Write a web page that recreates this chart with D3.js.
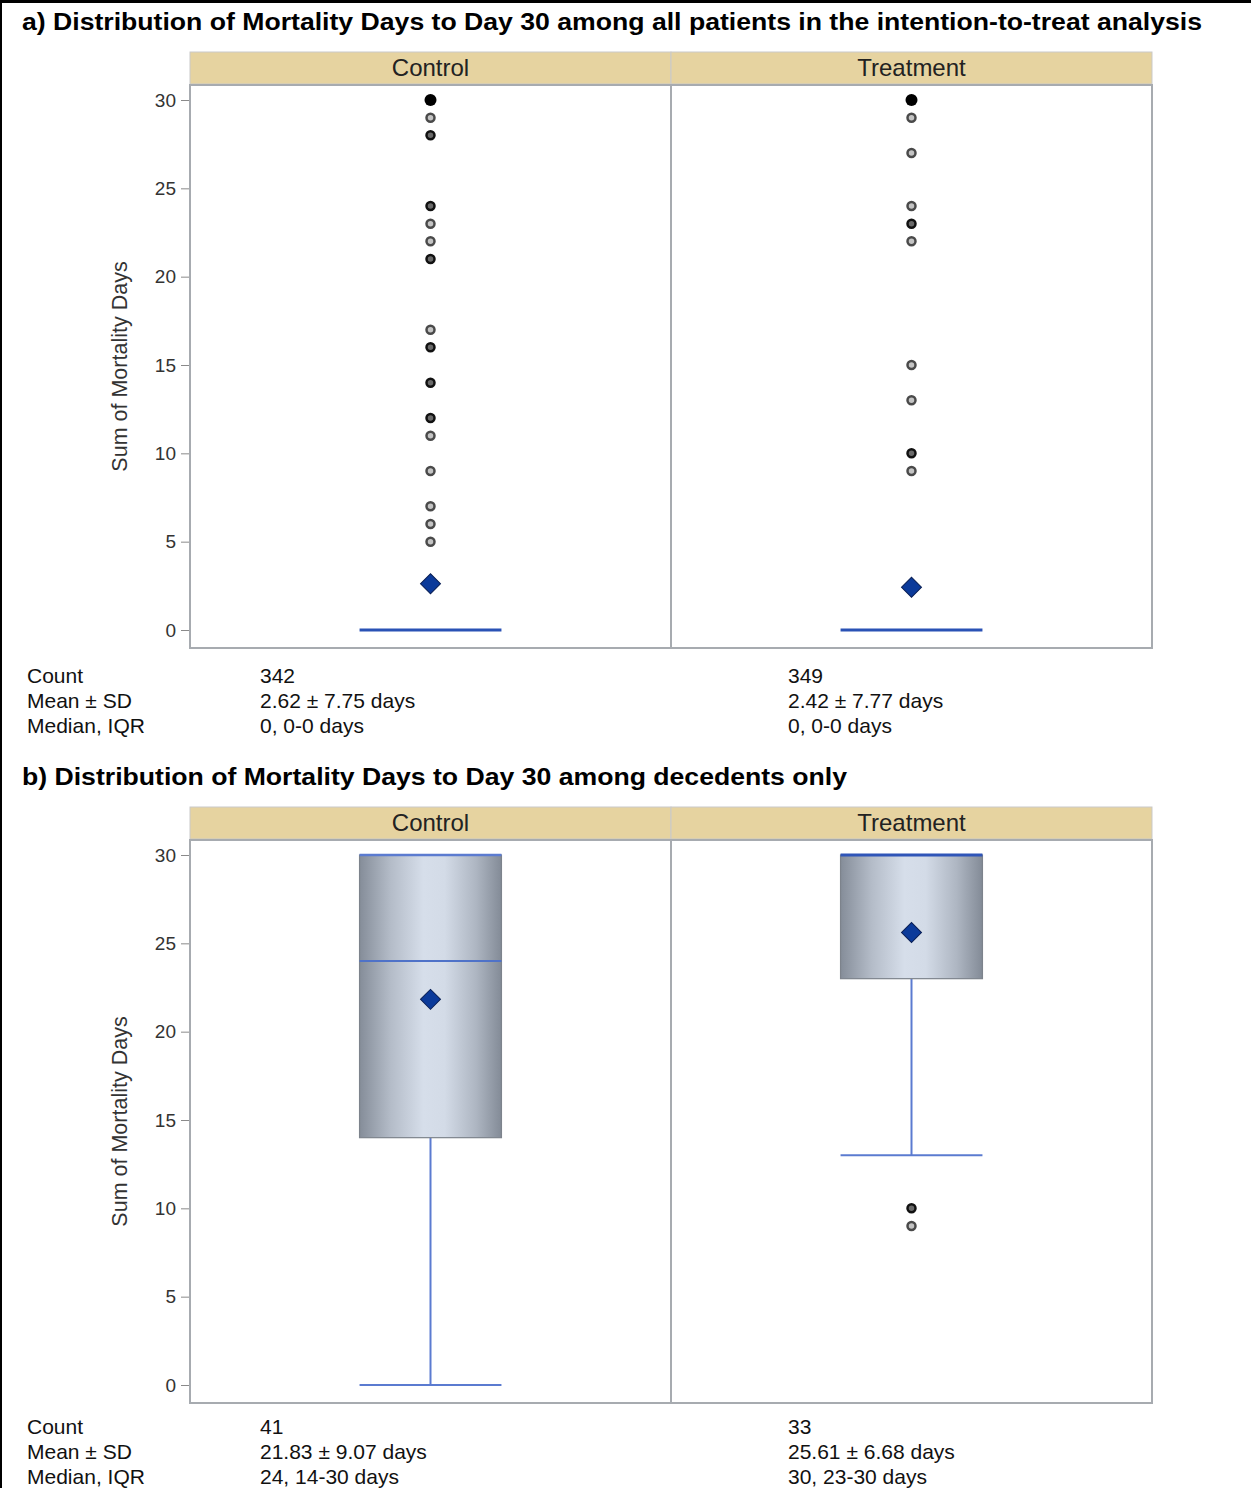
<!DOCTYPE html>
<html>
<head>
<meta charset="utf-8">
<script src="https://cdn.jsdelivr.net/npm/d3@7"></script>
<style>
  html, body { margin: 0; padding: 0; background: #fff; }
  svg { display: block; font-family: "Liberation Sans", Arial, Helvetica, sans-serif; }
</style>
</head>
<body>
<svg id="chart" width="1251" height="1488"></svg>
<script>
// ---- data ----
const groups = ["Control", "Treatment"];
const panelTitles = [
  "a) Distribution of Mortality Days to Day 30 among all patients in the intention-to-treat analysis",
  "b) Distribution of Mortality Days to Day 30 among decedents only"
];
const yTicks = [0, 5, 10, 15, 20, 25, 30];
const yLabel = "Sum of Mortality Days";

// a) all patients (ITT)
const allQ1 = [0, 0];
const allMedian = [0, 0];
const allQ3 = [0, 0];
const allWhiskerLow = [0, 0];
const allWhiskerHigh = [0, 0];
const allMean = [2.62, 2.42];
// outlier values and how many patients share each value
const allOutlierValues = [
  [30, 29, 28, 24, 23, 22, 21, 17, 16, 14, 12, 11, 9, 7, 6, 5],
  [30, 29, 27, 24, 23, 22, 15, 13, 10, 9]
];
const allOutlierCounts = [
  [17, 1, 2, 2, 1, 1, 2, 1, 2, 2, 2, 1, 1, 1, 1, 1],
  [22, 1, 1, 1, 2, 1, 1, 1, 2, 1]
];

// b) decedents only
const decQ1 = [14, 23];
const decMedian = [24, 30];
const decQ3 = [30, 30];
const decWhiskerLow = [0, 13];
const decWhiskerHigh = [30, 30];
const decMean = [21.83, 25.61];
const decOutlierValues = [[], [10, 9]];
const decOutlierCounts = [[], [2, 1]];

// summary rows under each panel
const statLabels = ["Count", "Mean \u00b1 SD", "Median, IQR"];
const allStats = [
  ["342", "2.62 \u00b1 7.75 days", "0, 0-0 days"],
  ["349", "2.42 \u00b1 7.77 days", "0, 0-0 days"]
];
const decStats = [
  ["41", "21.83 \u00b1 9.07 days", "24, 14-30 days"],
  ["33", "25.61 \u00b1 6.68 days", "30, 23-30 days"]
];

// ---- drawing ----
const svg = d3.select("#chart");
const FONT = "'Liberation Sans', Arial, Helvetica, sans-serif";

// page frame (top and left rules)
svg.append("rect").attr("x", 0).attr("y", 0).attr("width", 1251).attr("height", 3).attr("fill", "#000");
svg.append("rect").attr("x", 0).attr("y", 0).attr("width", 2).attr("height", 1488).attr("fill", "#000");

// box gradient
const defs = svg.append("defs");
const grad = defs.append("linearGradient").attr("id", "boxGrad")
  .attr("x1", "0%").attr("x2", "100%").attr("y1", "0%").attr("y2", "0%");
[["0%", "#858d99"], ["22%", "#b4bcc8"], ["45%", "#d6deea"], ["60%", "#d3dbe7"], ["82%", "#aeb6c2"], ["100%", "#838b97"]]
  .forEach(([o, c]) => grad.append("stop").attr("offset", o).attr("stop-color", c));

const plotLeft = 190, plotRight = 1152;

function drawPanel(cfg) {
  const g = svg.append("g");
  const top = cfg.top; // top of header strip
  const stripH = 32;
  const frameTop = top + stripH + 1;
  const frameBottom = frameTop + 563;

  // title
  g.append("text").attr("x", 22).attr("y", top - 22)
    .attr("font-size", 23).attr("font-weight", "bold").attr("fill", "#000")
    .attr("textLength", cfg.titleWidth).attr("lengthAdjust", "spacingAndGlyphs")
    .text(cfg.title);

  const x = d3.scaleBand().domain(groups).range([plotLeft, plotRight]);
  const y = d3.scaleLinear().domain([0, 30]).range([frameBottom - 18, frameTop + 15]);
  const boxW = x.bandwidth() * 0.295;

  // header strips
  groups.forEach(gr => {
    g.append("rect").attr("x", x(gr)).attr("y", top).attr("width", x.bandwidth()).attr("height", stripH)
      .attr("fill", "#e6d3a0").attr("stroke", "#c9c9c9").attr("stroke-width", 1);
    g.append("text").attr("x", x(gr) + x.bandwidth() / 2).attr("y", top + stripH / 2 + 8)
      .attr("text-anchor", "middle").attr("font-size", 24).attr("fill", "#222").text(gr);
  });

  // plot frames
  groups.forEach(gr => {
    g.append("rect").attr("x", x(gr)).attr("y", frameTop).attr("width", x.bandwidth()).attr("height", frameBottom - frameTop)
      .attr("fill", "#fff").attr("stroke", "#a7abb0").attr("stroke-width", 2);
  });

  // y axis
  const ax = g.append("g").attr("transform", `translate(${plotLeft - 1},0)`)
    .call(d3.axisLeft(y).tickValues(yTicks).tickSize(8).tickPadding(5));
  ax.select(".domain").remove();
  ax.selectAll(".tick line").attr("stroke", "#8a8a8a");
  ax.selectAll(".tick text").attr("font-size", 19).attr("fill", "#333").attr("font-family", FONT);

  g.append("text")
    .attr("transform", `translate(127,${(frameTop + frameBottom) / 2}) rotate(-90)`)
    .attr("text-anchor", "middle").attr("font-size", 21.5).attr("fill", "#333").text(yLabel);

  groups.forEach((gr, i) => {
    const cx = x(gr) + x.bandwidth() / 2;
    const q1 = cfg.q1[i], q3 = cfg.q3[i], med = cfg.median[i];
    const wl = cfg.wLow[i], wh = cfg.wHigh[i];
    const whiskerColor = "#5b7bd0";

    // whiskers + caps
    if (wl < q1) {
      g.append("line").attr("x1", cx).attr("x2", cx).attr("y1", y(q1)).attr("y2", y(wl))
        .attr("stroke", whiskerColor).attr("stroke-width", 2);
      g.append("line").attr("x1", cx - boxW / 2).attr("x2", cx + boxW / 2).attr("y1", y(wl)).attr("y2", y(wl))
        .attr("stroke", whiskerColor).attr("stroke-width", 2);
    }
    if (wh > q3) {
      g.append("line").attr("x1", cx).attr("x2", cx).attr("y1", y(q3)).attr("y2", y(wh))
        .attr("stroke", whiskerColor).attr("stroke-width", 2);
      g.append("line").attr("x1", cx - boxW / 2).attr("x2", cx + boxW / 2).attr("y1", y(wh)).attr("y2", y(wh))
        .attr("stroke", whiskerColor).attr("stroke-width", 2);
    }

    // box
    if (q3 > q1) {
      g.append("rect").attr("x", cx - boxW / 2).attr("y", y(q3)).attr("width", boxW).attr("height", y(q1) - y(q3))
        .attr("fill", "url(#boxGrad)").attr("stroke", "#7d838c").attr("stroke-width", 1.2);
      // upper edge drawn as whisker colour when it coincides with the whisker end
      if (wh === q3 && med !== q3) {
        g.append("line").attr("x1", cx - boxW / 2).attr("x2", cx + boxW / 2).attr("y1", y(q3)).attr("y2", y(q3))
          .attr("stroke", whiskerColor).attr("stroke-width", 2.5);
      }
    }

    // median
    g.append("line").attr("x1", cx - boxW / 2).attr("x2", cx + boxW / 2).attr("y1", y(med)).attr("y2", y(med))
      .attr("stroke", q3 > q1 ? (med === q3 ? "#2f55b8" : "#4f72c8") : "#2a52b5")
      .attr("stroke-width", q3 > q1 ? (med === q3 ? 3 : 2.2) : 3);

    // outliers
    cfg.outVals[i].forEach((v, k) => {
      const n = cfg.outCounts[i][k];
      if (n >= 10) {
        g.append("circle").attr("cx", cx).attr("cy", y(v)).attr("r", 6).attr("fill", "#000");
      } else {
        g.append("circle").attr("cx", cx).attr("cy", y(v)).attr("r", 4)
          .attr("fill", n > 1 ? "#6a6a6a" : "#c4c4c4")
          .attr("stroke", n > 1 ? "#111" : "#4a4a4a").attr("stroke-width", 2.5);
      }
    });

    // mean marker
    const ym = y(cfg.mean[i]);
    g.append("path").attr("d", d3.symbol().type(d3.symbolSquare).size(200)())
      .attr("transform", `translate(${cx},${ym}) rotate(45)`)
      .attr("fill", "#0b3a9a").attr("stroke", "#0a1f55").attr("stroke-width", 1);

    // summary rows
    cfg.stats[i].forEach((s, r) => {
      g.append("text").attr("x", i === 0 ? 260 : 788).attr("y", frameBottom + cfg.statsOffset + r * 25)
        .attr("font-size", 21).attr("fill", "#111").text(s);
    });
  });

  statLabels.forEach((s, r) => {
    g.append("text").attr("x", 27).attr("y", frameBottom + cfg.statsOffset + r * 25)
      .attr("font-size", 21).attr("fill", "#111").text(s);
  });
}

drawPanel({
  top: 52, title: panelTitles[0], titleWidth: 1180, statsOffset: 35,
  q1: allQ1, median: allMedian, q3: allQ3, wLow: allWhiskerLow, wHigh: allWhiskerHigh, mean: allMean,
  outVals: allOutlierValues, outCounts: allOutlierCounts, stats: allStats
});
drawPanel({
  top: 807, title: panelTitles[1], titleWidth: 825, statsOffset: 31,
  q1: decQ1, median: decMedian, q3: decQ3, wLow: decWhiskerLow, wHigh: decWhiskerHigh, mean: decMean,
  outVals: decOutlierValues, outCounts: decOutlierCounts, stats: decStats
});
</script>
</body>
</html>
